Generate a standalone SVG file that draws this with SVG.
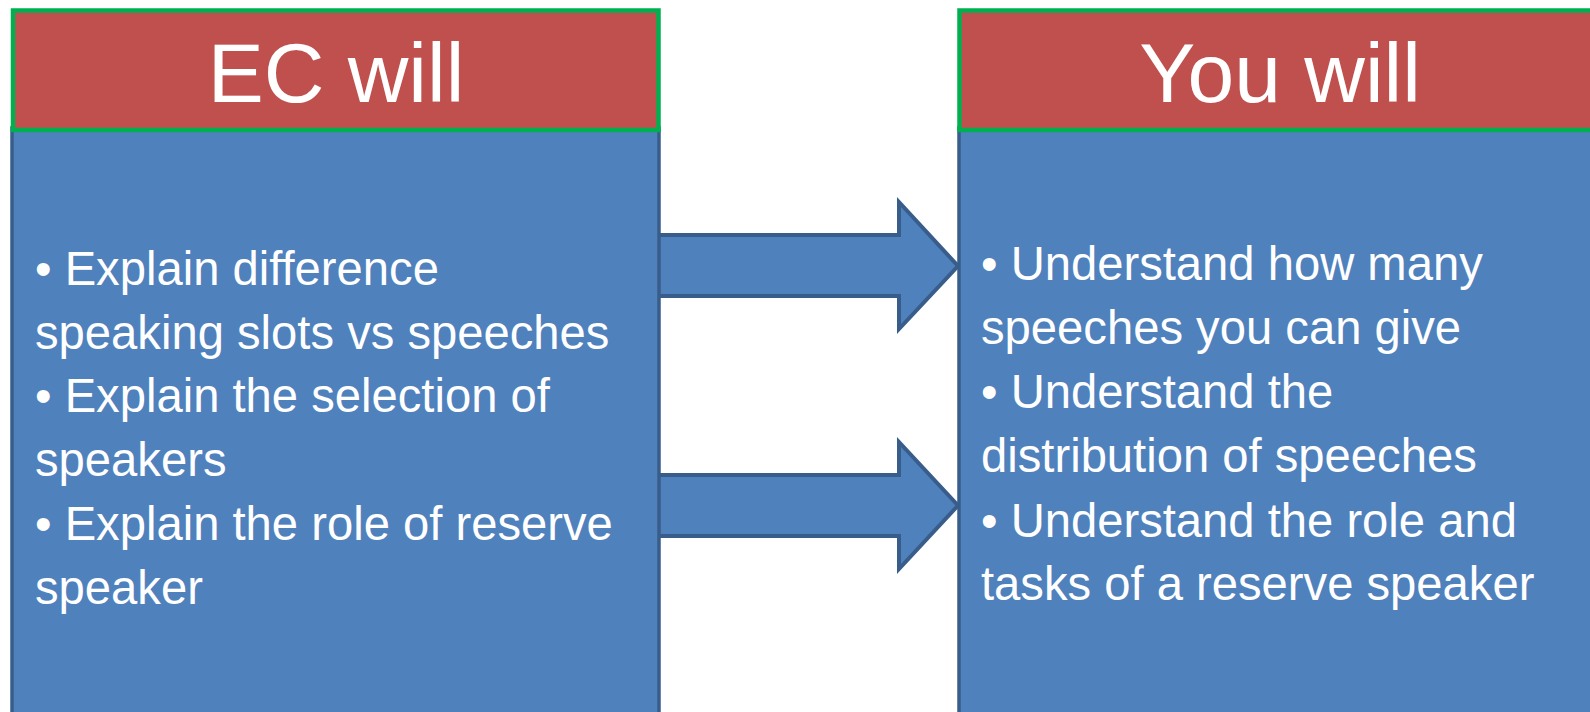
<svg xmlns="http://www.w3.org/2000/svg" width="1590" height="712" viewBox="0 0 1590 712">
<style>
.body{fill:#4F81BD;stroke:#385D8A;stroke-width:3.5}
.head{fill:#C0504D;stroke:#00B050;stroke-width:4.5}
.arrow{fill:#4F81BD;stroke:#385D8A;stroke-width:4;stroke-linejoin:miter}
.title{font-family:"Liberation Sans",Arial,sans-serif;font-size:84px;fill:#FFFFFF;text-anchor:middle}
.item{font-family:"Liberation Sans",Arial,sans-serif;font-size:47.2px;fill:#FFFFFF}
</style>
<rect width="1590" height="712" fill="#FFFFFF"/>
<g id="connectors">
<polygon class="arrow" points="640,235 899,235 899,202 958,266 899,329 899,296 640,296"/>
<polygon class="arrow" points="640,475 899,475 899,442 958,505.5 899,569 899,536 640,536"/>
</g>
<g id="node-ec">
<rect class="body" x="12" y="128" width="647" height="620"/>
<rect class="head" x="13" y="10.5" width="645.5" height="119.5"/>
<text class="title" x="336" y="102">EC will</text>
<text class="item" x="35" y="285">• Explain difference</text>
<text class="item" x="35" y="348.5">speaking slots vs speeches</text>
<text class="item" x="35" y="412">• Explain the selection of</text>
<text class="item" x="35" y="476">speakers</text>
<text class="item" x="35" y="540">• Explain the role of reserve</text>
<text class="item" x="35" y="603.5">speaker</text>
</g>
<g id="node-you">
<rect class="body" x="959" y="128" width="660" height="620"/>
<rect class="head" x="959.5" y="10.5" width="660" height="119.5"/>
<text class="title" x="1280" y="102">You will</text>
<text class="item" x="981" y="280">• Understand how many</text>
<text class="item" x="981" y="344">speeches you can give</text>
<text class="item" x="981" y="408">• Understand the</text>
<text class="item" x="981" y="472">distribution of speeches</text>
<text class="item" x="981" y="536.5">• Understand the role and</text>
<text class="item" x="981" y="600">tasks of a reserve speaker</text>
</g>
</svg>
